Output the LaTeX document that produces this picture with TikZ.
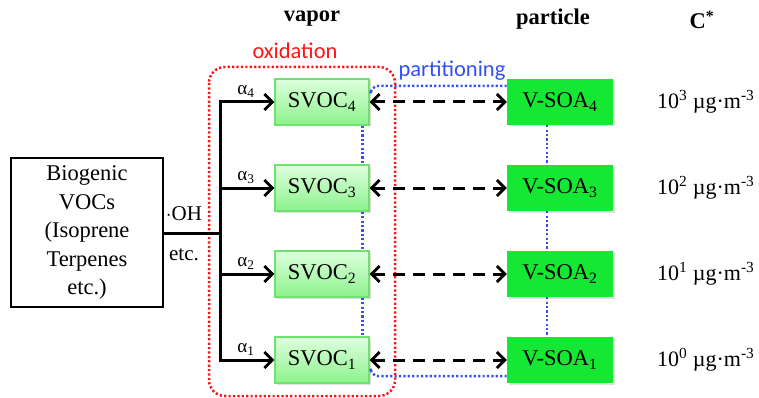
\documentclass[tikz,border=0pt]{standalone}
\usepackage{fontspec}
\setmainfont{Liberation Serif}
\newfontfamily\labelfont{Carlito}
\usetikzlibrary{arrows.meta,calc,shadows}
\definecolor{svocedge}{RGB}{110,225,110}
\definecolor{svoctop}{RGB}{222,255,222}
\definecolor{svocbot}{RGB}{140,242,140}
\definecolor{vsoafill}{RGB}{20,232,50}
\definecolor{oxred}{RGB}{255,20,20}
\definecolor{partblue}{RGB}{50,80,245}
\begin{document}
\begin{tikzpicture}[x=1pt,y=-1pt,
  every node/.style={inner sep=0pt},
  big/.style={font=\fontsize{22.5}{28.5}\selectfont},
  svoc/.style={big, draw=svocedge, line width=1.4pt, top color=svoctop, bottom color=svocbot,
    minimum width=94pt, minimum height=46pt,
    drop shadow={opacity=0.25, shadow xshift=1.5pt, shadow yshift=-1.5pt}},
  vsoa/.style={big, fill=vsoafill, minimum width=106pt, minimum height=46pt,
    drop shadow={opacity=0.25, shadow xshift=1.5pt, shadow yshift=-1.5pt}},
  tip/.tip={Straight Barb[length=8pt,width=16pt,line width=2.8pt]},
  conn/.style={line width=3pt, black},
  arr/.style={conn, -tip},
  darr/.style={conn, tip-tip, dash pattern=on 12pt off 8pt},
  reddot/.style={draw=oxred, line width=2.5pt, dash pattern=on 2.2pt off 2.2pt},
  bluedot/.style={draw=partblue, line width=2.5pt, dash pattern=on 2.2pt off 2.2pt},
  alab/.style={font=\fontsize{19}{22}\selectfont, anchor=south},
  cval/.style={font=\fontsize{22}{24}\selectfont, anchor=west},
  head/.style={font=\fontsize{22.5}{26}\selectfont\bfseries}
]
\useasboundingbox (0,0) rectangle (759,398);

% red oxidation frame
\draw[reddot, rounded corners=16pt] (209,67) rectangle (395,396);
\node[font=\labelfont\fontsize{22.5}{26}\selectfont, text=oxred] (oxlab) at (295,51) {oxidation};

% headers
\node[head] (hvap) at (312,19) {vapor};
\node[head] (hpar) at (553,19) {particle};
\node[head] (hcs) at (702,20) {C\textsuperscript{*}};

% source box
\node[big, draw, line width=2.4pt, minimum width=152pt, minimum height=149pt, align=center] (bio) at (87,232.5)
  {Biogenic\\VOCs\\(Isoprene\\Terpenes\\etc.)};
\node[font=\fontsize{21}{24}\selectfont] (oh) at (184,214) {$\cdot$OH};
\node[font=\fontsize{21}{24}\selectfont] (etc) at (184,255) {etc.};

% SVOC and V-SOA boxes
\node[svoc] (s4) at (322,102) {SVOC\textsubscript{4}};
\node[svoc] (s3) at (322,188) {SVOC\textsubscript{3}};
\node[svoc] (s2) at (322,274) {SVOC\textsubscript{2}};
\node[svoc] (s1) at (322,360) {SVOC\textsubscript{1}};
\node[vsoa] (v4) at (560,102) {V-SOA\textsubscript{4}};
\node[vsoa] (v3) at (560,188) {V-SOA\textsubscript{3}};
\node[vsoa] (v2) at (560,274) {V-SOA\textsubscript{2}};
\node[vsoa] (v1) at (560,360) {V-SOA\textsubscript{1}};

% C* values
\node[cval] (c4) at (657,102) {10\textsuperscript{3} µg·m\textsuperscript{-3}};
\node[cval] (c3) at (657,188) {10\textsuperscript{2} µg·m\textsuperscript{-3}};
\node[cval] (c2) at (657,274) {10\textsuperscript{1} µg·m\textsuperscript{-3}};
\node[cval] (c1) at (657,360) {10\textsuperscript{0} µg·m\textsuperscript{-3}};

% branching connectors
\coordinate (j) at (220,233);
\draw[conn] (bio.east |- j) -- (j);
\draw[arr] (j) |- (s4.west);
\draw[arr] (j) |- (s1.west);
\draw[arr] (j |- s3.west) -- (s3.west);
\draw[arr] (j |- s2.west) -- (s2.west);
\node[alab] (a4) at (246,98) {α\textsubscript{4}};
\node[alab] (a3) at (246,184) {α\textsubscript{3}};
\node[alab] (a2) at (246,270) {α\textsubscript{2}};
\node[alab] (a1) at (246,356) {α\textsubscript{1}};

% partitioning
\draw[darr] (s4.east) -- (v4.west);
\draw[darr] (s3.east) -- (v3.west);
\draw[darr] (s2.east) -- (v2.west);
\draw[darr] (s1.east) -- (v1.west);

\draw[bluedot, rounded corners=8pt] ($(s4.north east)+(1,13)$) |- ($(v4.north west)+(0,7)$);
\draw[bluedot, rounded corners=8pt] ($(s1.south east)+(1,-13)$) |- ($(v1.south west)+(0,-7)$);
\foreach \a/\b in {s4/s3, s3/s2, s2/s1}{
  \draw[bluedot] ($(\a.south east)+(-7,0)$) -- ($(\b.north east)+(-7,0)$);
}
\foreach \a/\b in {v4/v3, v3/v2, v2/v1}{
  \draw[bluedot] ($(\a.south west)+(40,0)$) -- ($(\b.north west)+(40,0)$);
}
\node[font=\labelfont\fontsize{22.5}{26}\selectfont, text=partblue] (plab) at (452,71) {partitioning};
\end{tikzpicture}
\end{document}
